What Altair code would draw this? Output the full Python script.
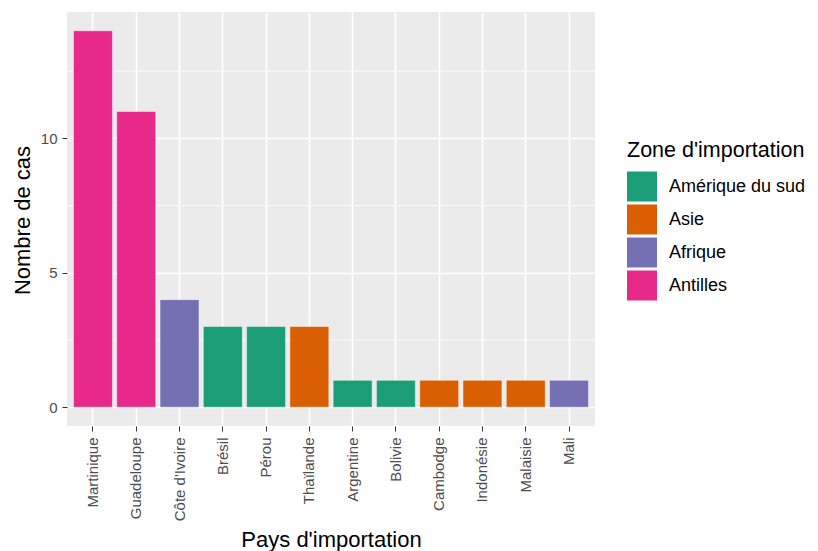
import altair as alt
import pandas as pd

countries = ["Martinique", "Guadeloupe", "Côte d'Ivoire", "Brésil", "Pérou", "Thaïlande",
             "Argentine", "Bolivie", "Cambodge", "Indonésie", "Malaisie", "Mali"]
cases = [14, 11, 4, 3, 3, 3, 1, 1, 1, 1, 1, 1]
zones = ["Antilles", "Antilles", "Afrique", "Amérique du sud", "Amérique du sud", "Asie",
         "Amérique du sud", "Amérique du sud", "Asie", "Asie", "Asie", "Afrique"]
zone_order = ["Amérique du sud", "Asie", "Afrique", "Antilles"]
zone_colors = ["#1B9E77", "#D95F02", "#7570B3", "#E7298A"]
major_ticks = [0, 5, 10]
minor_ticks = [2.5, 7.5, 12.5]

df = pd.DataFrame({"pays": countries, "n": cases, "zone": zones})
minor_df = pd.DataFrame({"v": minor_ticks})

FONT = "Liberation Sans"
yscale = alt.Scale(domain=[-0.7, 14.7], nice=False, zero=False)
yaxis = alt.Axis(values=major_ticks, title="Nombre de cas", grid=True, gridColor="white",
                 gridWidth=1.6, domain=False, tickColor="#333333", tickSize=5, tickWidth=1,
                 labelFont=FONT, labelFontSize=15, labelColor="#4D4D4D", labelPadding=5,
                 titleFont=FONT, titleFontSize=22, titleFontWeight="normal", titleColor="black",
                 titleBaseline="alphabetic", titleX=-38, titleY=208, titleAngle=270)

minor = alt.Chart(minor_df).mark_rule(color="white", strokeWidth=0.8).encode(
    y=alt.Y("v:Q", scale=yscale, axis=yaxis)
)

bars = alt.Chart(df).mark_bar(stroke="white", strokeWidth=1, strokeOpacity=0.45).encode(
    x=alt.X("pays:N", sort=countries,
            scale=alt.Scale(paddingInner=0.1, paddingOuter=0.15),
            axis=alt.Axis(title="Pays d'importation", grid=True, gridColor="white", gridWidth=1.6,
                          bandPosition=0.5, domain=False, tickColor="#333333", tickSize=5,
                          tickWidth=1, labelAngle=270, labelAlign="right", labelBaseline="middle",
                          labelFont=FONT, labelFontSize=15, labelColor="#4D4D4D", labelPadding=6,
                          titleFont=FONT, titleFontSize=22, titleFontWeight="normal",
                          titleColor="black", titleBaseline="alphabetic", titleY=120)),
    y=alt.Y("n:Q", stack=None, scale=yscale, axis=yaxis),
    y2=alt.datum(0),
    color=alt.Color("zone:N", scale=alt.Scale(domain=zone_order, range=zone_colors),
                    legend=alt.Legend(title="Zone d'importation", orient="none",
                                      legendX=560, legendY=128, padding=0,
                                      symbolType="square", symbolSize=900,
                                      symbolStrokeWidth=0, symbolOpacity=1,
                                      labelFont=FONT, labelFontSize=18, labelColor="black",
                                      labelOffset=12, rowPadding=3, labelLimit=400,
                                      titleFont=FONT, titleFontSize=21.5, titleFontWeight="normal",
                                      titleColor="black", titlePadding=10, titleLimit=400)),
)

chart = alt.layer(minor, bars).properties(
    width=528, height=414,
    autosize=alt.AutoSizeParams(type="none"),
    padding={"left": 59, "top": 4, "right": 214, "bottom": 130},
    background="white",
).configure_view(fill="#EBEBEB", stroke=None)

chart.save("out.html", embed_options={"renderer": "svg", "actions": False})
